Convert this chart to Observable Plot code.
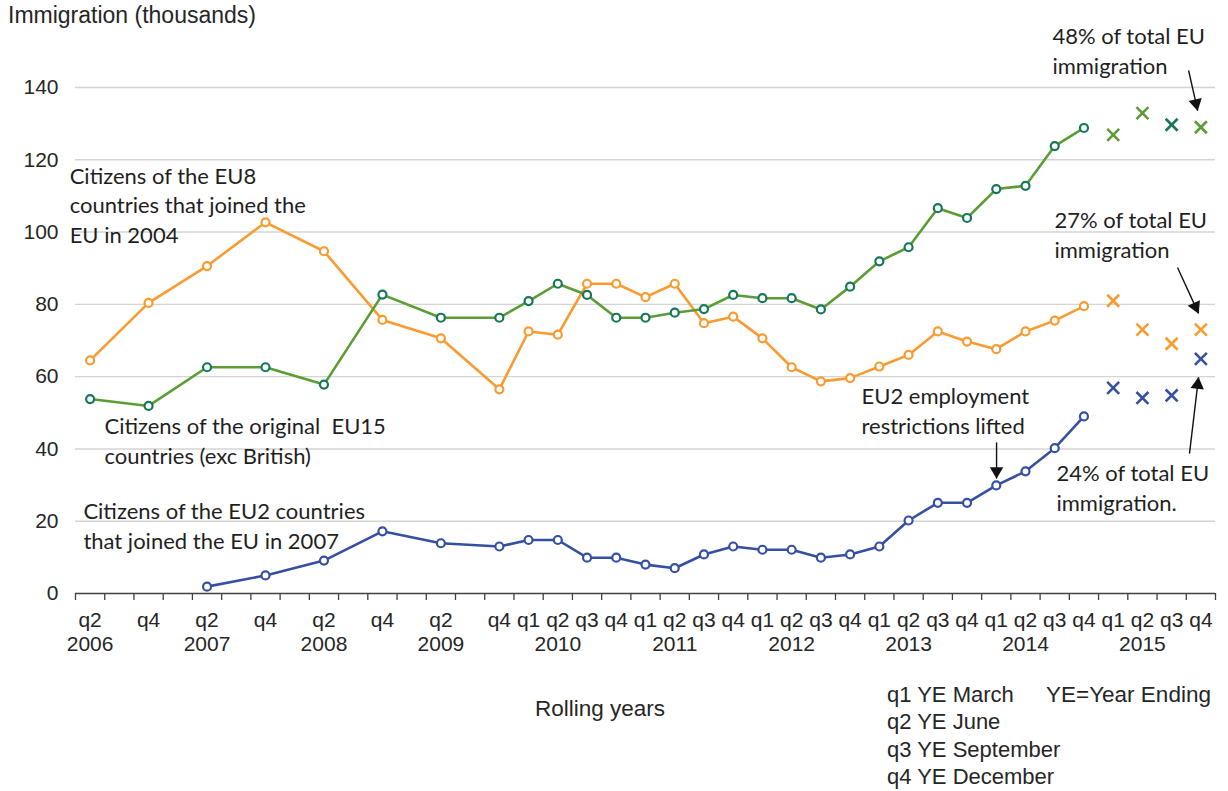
<!DOCTYPE html>
<html>
<head>
<meta charset="utf-8">
<script src="https://cdn.jsdelivr.net/npm/d3@7"></script>
<script src="https://cdn.jsdelivr.net/npm/@observablehq/plot@0.6"></script>
<style>
  body { margin: 0; background: #fff; }
  #wrap { position: relative; width: 1228px; height: 791px; overflow: hidden;
          font-family: "Liberation Sans", Arial, sans-serif; color: #262626; }
  #chart { position: absolute; left: 0; top: 0; }
  .t { position: absolute; white-space: pre; line-height: 1; font-size: 22px; }
</style>
</head>
<body>
<div id="wrap">
  <div id="chart"></div>
  <div class="t" style="left:8px;top:4px;font-size:23px;">Immigration (thousands)</div>
  <div class="t" style="left:535px;top:698px;font-size:22.5px;">Rolling years</div>
  <div class="t" style="left:887px;top:684px;">q1 YE March</div>
  <div class="t" style="left:887px;top:711px;">q2 YE June</div>
  <div class="t" style="left:887px;top:739px;">q3 YE September</div>
  <div class="t" style="left:887px;top:766px;">q4 YE December</div>
  <div class="t" style="left:1046px;top:684px;font-size:22.5px;">YE=Year Ending</div>
</div>
<script>
// ---------- Categories (rolling years, quarterly) ----------
const periods = [
  "2006 q2","2006 q3","2006 q4",
  "2007 q1","2007 q2","2007 q3","2007 q4",
  "2008 q1","2008 q2","2008 q3","2008 q4",
  "2009 q1","2009 q2","2009 q3","2009 q4",
  "2010 q1","2010 q2","2010 q3","2010 q4",
  "2011 q1","2011 q2","2011 q3","2011 q4",
  "2012 q1","2012 q2","2012 q3","2012 q4",
  "2013 q1","2013 q2","2013 q3","2013 q4",
  "2014 q1","2014 q2","2014 q3","2014 q4",
  "2015 q1","2015 q2","2015 q3","2015 q4"
];
const tickLabels = [
  "q2\n2006","","q4",
  "","q2\n2007","","q4",
  "","q2\n2008","","q4",
  "","q2\n2009","","q4",
  "q1","q2\n2010","q3","q4",
  "q1","q2\n2011","q3","q4",
  "q1","q2\n2012","q3","q4",
  "q1","q2\n2013","q3","q4",
  "q1","q2\n2014","q3","q4",
  "q1","q2\n2015","q3","q4"
];

// ---------- Series (thousands), lines to 2014 q4 ----------
const eu8 = [
  64.5, null, 80.4,
  null, 90.6, null, 102.7,
  null, 94.7, null, 75.7,
  null, 70.6, null, 56.5,
  72.5, 71.6, 85.7, 85.7,
  82.0, 85.7, 74.8, 76.6,
  70.6, 62.6, 58.7, 59.6,
  62.8, 66.0, 72.5, 69.7,
  67.6, 72.5, 75.5, 79.5
];
const eu15 = [
  53.8, null, 51.9,
  null, 62.6, null, 62.6,
  null, 57.8, null, 82.7,
  null, 76.3, null, 76.3,
  80.9, 85.7, 82.6, 76.3,
  76.3, 77.7, 78.7, 82.6,
  81.7, 81.7, 78.6, 84.9,
  91.9, 95.8, 106.6, 103.9,
  111.9, 112.8, 123.8, 128.8
];
const eu2 = [
  null, null, null,
  null, 1.9, null, 5.0,
  null, 9.1, null, 17.2,
  null, 13.9, null, 13.0,
  14.8, 14.8, 9.9, 9.9,
  8.0, 7.0, 10.8, 13.0,
  12.1, 12.1, 9.9, 10.8,
  13.0, 20.2, 25.1, 25.1,
  29.9, 33.8, 40.2, 49.0
];
// ---------- 2015 values (shown as crosses) ----------
const periods2015 = ["2015 q1","2015 q2","2015 q3","2015 q4"];
const eu8_2015  = [81.0, 73.0, 69.1, 73.0];
const eu15_2015 = [126.9, 132.9, 129.7, 129.0];
const eu2_2015  = [56.9, 54.1, 54.8, 64.9];

const yTicks = [0, 20, 40, 60, 80, 100, 120, 140];

// ---------- Annotations (data coordinates: category index, thousands) ----------
const notes = [
  {text: "Citizens of the EU8\ncountries that joined the\nEU in 2004", i: -0.70, v: 119.3},
  {text: "Citizens of the original  EU15\ncountries (exc British)", i: 0.49, v: 50.1},
  {text: "Citizens of the EU2 countries\nthat joined the EU in 2007", i: -0.23, v: 26.6},
  {text: "48% of total EU\nimmigration", i: 32.92, v: 158.0},
  {text: "27% of total EU\nimmigration", i: 32.99, v: 106.9},
  {text: "EU2 employment\nrestrictions lifted", i: 26.39, v: 58.2},
  {text: "24% of total EU\nimmigration.", i: 33.06, v: 37.1}
];
const arrows = [
  {i1: 37.58, v1: 144.7, i2: 37.89, v2: 133.6},
  {i1: 37.20, v1: 90.2,  i2: 37.92, v2: 77.5},
  {i1: 37.61, v1: 38.7,  i2: 37.92, v2: 59.8},
  {i1: 31.01, v1: 41.8,  i2: 31.01, v2: 31.8}
];

// ---------- Build tables ----------
function rows(values, series) {
  return values.map((v, k) => ({period: periods[k], i: k, value: v, series}))
               .filter(d => d.value != null);
}
function rows2015(values, series) {
  return values.map((v, k) => ({period: periods2015[k], i: periods.indexOf(periods2015[k]), value: v, series}));
}
const dEU8 = rows(eu8, "EU8"), dEU15 = rows(eu15, "EU15"), dEU2 = rows(eu2, "EU2");
const pEU8 = rows2015(eu8_2015, "EU8"), pEU15 = rows2015(eu15_2015, "EU15"), pEU2 = rows2015(eu2_2015, "EU2");

const W = 1228, H = 660;
const mL = 75, mR = 13, mT = 87, mB = H - 593;
const xDomain = [-0.5, periods.length - 0.5];
const yDomain = [0, 140];
const xs = Plot.scale({x: {type: "linear", domain: xDomain, range: [mL, W - mR]}});
const ys = Plot.scale({y: {type: "linear", domain: yDomain, range: [H - mB, mT]}});

// arrow heads: place triangle centroid behind the tip, rotated along the shaft
const heads = arrows.map(a => {
  const px1 = xs.apply(a.i1), py1 = ys.apply(a.v1), px2 = xs.apply(a.i2), py2 = ys.apply(a.v2);
  const dx = px2 - px1, dy = py2 - py1, L = Math.hypot(dx, dy);
  const off = 7.5;
  const cx = px2 - dx / L * off, cy = py2 - dy / L * off;
  return {i: xs.invert(cx), v: ys.invert(cy), rot: Math.atan2(dx, -dy) * 180 / Math.PI};
});

const boundaries = d3.range(periods.length + 1).map(k => k - 0.5);
const centers = d3.range(periods.length);

const ORANGE = "#F99B30", BLUE = "#3550A3", GREEN = "#5C9C34", TEAL = "#17775A";
const annoFont = "Lato, 'Open Sans', sans-serif";

const chart = Plot.plot({
  width: W, height: H,
  marginLeft: mL, marginRight: mR, marginTop: mT, marginBottom: mB,
  style: {fontFamily: "'Liberation Sans', Arial, sans-serif", color: "#262626", background: "#fff", overflow: "visible"},
  x: {type: "linear", domain: xDomain, axis: null},
  y: {type: "linear", domain: yDomain, axis: null},
  marks: [
    Plot.ruleY(yTicks.filter(t => t > 0), {stroke: "#D4D4D4", strokeWidth: 1.4}),
    Plot.axisY(yTicks, {tickSize: 0, tickPadding: 17, fontSize: 21, label: null, fill: "#262626"}),
    Plot.axisX(boundaries, {tickSize: 7, tickFormat: () => "", label: null, stroke: "#404040", strokeWidth: 1.3}),
    Plot.axisX(centers, {tickSize: 0, tickPadding: 16, fontSize: 21, lineHeight: 1.15, label: null,
                         tickFormat: k => tickLabels[k], fill: "#262626"}),
    Plot.ruleY([0], {stroke: "#404040", strokeWidth: 1.4}),

    Plot.line(dEU8, {x: "i", y: "value", stroke: ORANGE, strokeWidth: 2.6}),
    Plot.line(dEU15, {x: "i", y: "value", stroke: GREEN, strokeWidth: 2.6}),
    Plot.line(dEU2, {x: "i", y: "value", stroke: BLUE, strokeWidth: 2.6}),
    Plot.dot(dEU8, {x: "i", y: "value", r: 4, fill: "white", stroke: ORANGE, strokeWidth: 2.2}),
    Plot.dot(dEU15, {x: "i", y: "value", r: 4, fill: "white", stroke: TEAL, strokeWidth: 2.2}),
    Plot.dot(dEU2, {x: "i", y: "value", r: 4, fill: "white", stroke: BLUE, strokeWidth: 2.2}),

    Plot.dot(pEU8, {x: "i", y: "value", symbol: "times", r: 5.5, stroke: ORANGE, strokeWidth: 2.6}),
    Plot.dot(pEU15, {x: "i", y: "value", symbol: "times", r: 5.5, strokeWidth: 2.6,
                     stroke: d => d.period === "2015 q3" ? TEAL : GREEN}),
    Plot.dot(pEU2, {x: "i", y: "value", symbol: "times", r: 5.5, stroke: BLUE, strokeWidth: 2.6}),

    Plot.text(notes, {x: "i", y: "v", text: "text", textAnchor: "start", lineAnchor: "top",
                      fontSize: 22, lineHeight: 1.36, fontFamily: annoFont, fill: "#1F1F1F"}),
    Plot.link(arrows, {x1: "i1", y1: "v1", x2: "i2", y2: "v2", stroke: "#111", strokeWidth: 1.4}),
    Plot.dot(heads, {x: "i", y: "v", symbol: "triangle", rotate: "rot", r: 5, fill: "#111", stroke: "none"})
  ]
});
document.getElementById("chart").appendChild(chart);
</script>
</body>
</html>
